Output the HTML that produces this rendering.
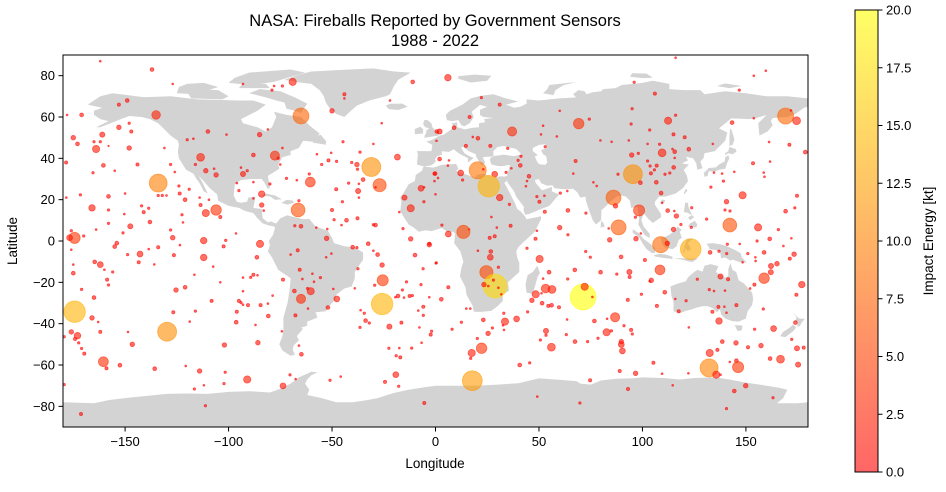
<!DOCTYPE html>
<html><head><meta charset="utf-8">
<style>
html,body{margin:0;padding:0;background:#fff;}
body{width:946px;height:487px;overflow:hidden;font-family:"Liberation Sans",sans-serif;}
svg text{font-family:"Liberation Sans",sans-serif;fill:#000;}
</style></head>
<body>
<svg id="chart" width="946" height="487" viewBox="0 0 946 487" xmlns="http://www.w3.org/2000/svg">
<defs>
<linearGradient id="cbgrad" x1="0" y1="1" x2="0" y2="0">
<stop offset="0" stop-color="rgb(255,102,102)"/>
<stop offset="1" stop-color="rgb(255,255,102)"/>
</linearGradient>
<clipPath id="plotclip"><rect x="63" y="55" width="745" height="372"/></clipPath>
</defs>
<text x="435" y="26" font-size="16.5" text-anchor="middle">NASA: Fireballs Reported by Government Sensors</text>
<text x="435" y="46" font-size="16.5" text-anchor="middle">1988 - 2022</text>
<g id="land" clip-path="url(#plotclip)"></g>
<g id="points" clip-path="url(#plotclip)"></g>
<rect x="63" y="55" width="745" height="372" fill="none" stroke="#000" stroke-width="1"/>
<g id="axes"></g>
<text x="435" y="468" font-size="13.5" text-anchor="middle">Longitude</text>
<text transform="translate(17,241) rotate(-90)" font-size="13.5" text-anchor="middle">Latitude</text>
<rect x="855" y="10" width="23" height="462" fill="url(#cbgrad)" stroke="#000" stroke-width="1"/>
<g id="cbaxis"></g>
<text transform="translate(933,241) rotate(-90)" font-size="13.5" text-anchor="middle">Impact Energy [kt]</text>
</svg>
<script>
const lonTicks=[-150,-100,-50,0,50,100,150];
const latTicks=[-80,-60,-40,-20,0,20,40,60,80];
const cbTicks=[0,2.5,5,7.5,10,12.5,15,17.5,20];
const cbLabels=["0.0","2.5","5.0","7.5","10.0","12.5","15.0","17.5","20.0"];

const lons=[
-162,-137,-127,-69,-74,-78,-79,-93,-11,-44,-44,-50,-22,-26,-153,-149,-171,-178,-135,-65,-153,-148,-147,-161,-175,-173,-165,-162,-164,-148,-158,-131,-178.5,-160.5,-165.5,-155,-144,-128,-126,-134,-134,-132,-130,-113.5,-116,-111,-106,-107,-110,-120,-117,-101,-85,-81,-88,-77.6,-76,-75,-74,-94,-91,-93,-96,-95,-88,-80,-84,-88,-84,-83,-60.5,-61,-72,-67,-66,-66.4,-68,-65,-57.6,-52.6,-52.3,-57.3,-55,-51.7,-50.4,-47.8,-48,-45,-50,-49,-43,-45.4,-37.7,-40.5,-38,-37.7,-31,-35,-37,-27,-29,-37.4,-37,-42,-30,-36.5,-18.4,-7,-15,-12,-17.5,-5.6,-5.5,-0.5,-0.5,0.7,0.5,-29,-30,-15.7,-12,-3,-44.7,-178.4,-171.6,-166,-158,-158,-150,-150.4,-158,-138,-147.5,-142,-138.6,-141,-123.6,-121,-119,-114,-124,-113.5,-109.5,-111,-106,-104,-122.5,-122,-128,-127,-112,-101.4,-96.4,-174.4,-176.8,-176,-170,-154,-164,-151,
-176,-155,-142.8,-148.8,-138.6,-134,-126.4,-123.5,-102.4,-112,-164.7,-162,-175,-175,-156,-160,-143.4,-135.9,-158.7,-158,-171,-165,-174.4,-166,-163,-176,-173,-174.2,-172.4,-171,-169.7,-179.4,-162,-148.6,-146.5,-160.5,-159,-152.5,-129.7,-125.4,-121,-126.7,-118.8,-116,-108.2,-107.4,-116.5,-104,-93,-95,-94,-93,-90.6,-96,-96.3,-87,-84.5,-81,-80.8,-78.7,-88,-89.3,-86,-93,-86.3,-84.8,-102,-85.8,-74.2,-65,-60.3,-61.8,-68.2,-67.7,-61.6,-65.6,-59.5,-55.6,-64.3,-58.7,-73.7,-70,-66.6,-52.8,-50.3,-47.7,-52,-49.4,-66,-64.8,-135.7,-120.7,-114,-101.6,-111.9,-102.2,-116.5,-91,-73.7,-70.3,-67.6,-51,-45.8,-111.2,-171.3,-179.4,-5.4,-25.5,-25.8,-25.8,-28,-32.5,-30,-40,-38,-37.5,-39,-36.2,-34.4,-33.8,-32,-36.5,-29.4,-18.1,-22.3,-16.5,-19.4,-16,-14,-15.2,-12.5,-11.2,-7,-3,-6,-9.9,-3,0.2,-5.9,-8.3,-5.9,-7.8,-1.9,-2.3,-6.7,-11.5,-17.5,-22.5,-19,-17,-19.2,-24.4,-17.8,
6,116,96,106,153.8,159.6,146.8,22.2,31,16.5,2,9,37,69.2,60,74.3,52,51,58.6,53,95,94.5,112.4,116,103.5,115,120.4,122.4,109.5,102.5,108.3,114.5,115.6,94.8,98,115.6,102.5,106.9,103.7,105.8,104.1,110.9,113.2,115.1,93.4,85.1,79.7,95.4,99,106.7,109,109.5,88.2,67.7,66.6,76.3,77.9,60.3,63.7,86,87,98.4,96.6,88.5,84.2,96.9,99.2,83.7,112.2,116.4,115.4,118.6,123.6,123.8,115,131,142.2,155.9,161.5,165.7,172,140.6,139.9,142.3,148.4,133.1,139.1,134.6,138.5,144.4,153.4,158.6,159,161.7,174.7,173.6,169.2,178.7,171,161.2,134,169.2,174.5,171.8,153.8,143.3,2,6.5,6,-0.2,1.2,20.4,12.2,13.1,28.6,23.1,25.7,31,35.7,20.5,18,14.7,26.5,34.9,34.1,36.7,39.9,41.3,41,45.2,44.2,43.7,49,50.2,52.6,52.8,64,72.7,27,29.6,36.3,26.2,28.6,6.2,0,3.1,16.2,13.5,49,48.3,60,64,
123.3,108.8,112,0.4,6.2,2.8,20.5,26.7,26.5,30.4,24.6,28.8,28,23.4,25.5,30.4,31.8,44.2,50.3,54.9,52,53.2,56.3,48.4,46.6,51.5,54.5,56.1,59.7,51.2,67.3,63.9,71.3,72.1,75.8,72.6,74.8,79.8,87.6,93.7,93.8,89.7,101.2,108.5,104.3,103.5,110.8,92.9,99.5,107,33,33.6,39.2,44.5,23.1,12.5,8,14.9,16.8,27.5,25.4,32.6,33.1,20.2,22.3,17.5,17,17.8,53.4,53.4,50.7,56,63.6,63.2,67.4,73.5,78.5,76.8,86.8,82.9,82.7,85,91.1,94.5,95.1,89.8,89.8,90.3,40.7,45.5,89,96.7,105.3,109.5,114.6,122.2,93,74.7,49.2,69.8,132.2,135.7,132.5,137.7,136.2,138.6,145.2,145.4,142.2,146.2,151,157.3,161.7,166.7,175.2,174.7,177.9,172.1,149.9,144.4,140.6,163.1,137.7,141.4,132.3,134.6,139.9,145.4,136.7,139.6,140.6,133.8,137,122.4,117.5,115.9,121.1,126.5,154.2,163.4,173.9,158.4,158.8,162,162.1,165,171.2,173.3,154.6,154.7,158.8,168.1,155.4,148.4,154.1,152,174.4,177,141,147,137,132.7,140.7,150.9
];
const lats=[
87,83,76,77,75,75,73,76,77,71,69,63,68,57,66,68,61,61,61,60.5,55,57,53,51.5,50,47,48,48,44.5,45,46,45,38,36.6,33,34,37,37,33.4,28,22,22,22,40.5,37,34,32,35,53,49,49.5,51.5,51.5,54,41.6,41.3,40,37,45,35.5,34,32.4,28,24.4,28.5,27.6,22.7,20.6,17.4,14.7,28.5,32.4,30.3,29.4,19.5,15,7.4,7.1,6.5,1.3,5.8,42,37,39,42.7,38.5,25,19,15,10.3,10,7.7,11,38,37,34.7,35.8,29.7,27.7,27,26,24.2,21,28,47,43,40.6,25.5,21,15.8,14,19,26,32.6,29,53,48.5,7.7,7.9,6,1,-1.3,48,21,22.3,16,21.6,15,23,13,8.5,9.2,7.1,17,15.8,14,23,20,25,21,26.6,17.4,20,13.5,15,11.6,12.7,9,5.3,1.6,0.2,0.3,3.7,1.5,1.6,5,2.4,-1,5.5,3.9,
-4.2,-2.7,-6.3,-6.6,-3.9,-3,-6.8,-2,-2.6,-8,-10.1,-11.4,-11.4,-15.6,-15,-13.9,-10.3,-11.3,-18.7,-21.3,-23.4,-27.4,-34.2,-37.2,-39.2,-44,-45.8,-47.4,-49.3,-52,-54.5,-46.3,-44,-44,-50,-58.4,-61.6,-60.1,-43.9,-23.7,-22.4,-34.5,-39,-33.9,-29,-12.4,-16.3,-20,-24.3,-29,-29.8,-30.8,-31,-34.2,-39.3,-40.6,-31,-30.3,-36.3,-26.4,-16.3,-17.6,-16.6,-17.7,-7.9,-1.4,-50.3,-49.2,-43.7,-28,-24.3,-23,-24.2,-36,-32.7,-13.9,-15.8,-17.7,-18.4,-19.7,-18.7,-6.6,-4.5,-7.9,-6.1,-28,-32.2,-23.2,-50.6,-54.8,-61.8,-60.5,-62.9,-63.5,-69.8,-69,-71.6,-67,-70.1,-64.8,-66.8,-67.4,-65.6,-79.7,-83.7,-69.5,-78.4,-19,-30.5,-11.6,-6.6,-1.3,-4.7,-3,-3.2,-13.4,-22.9,-33.5,-35,-38.5,-39.7,-41.8,-21.4,-26.6,-41.4,-39.5,-27.2,-23.7,-19.8,-27.4,-26.6,-26.4,-21.1,-27.2,-13.4,-6.8,-1.8,-10.8,-31.8,-33.7,-36,-41.8,-43.7,-45.3,-49.2,-51.8,-51.8,-51.9,-55.5,-56.3,-64.7,-68.2,-70.3,
79,88.7,76.8,71.3,80,82.4,73,69.4,66,60,53,54.8,53,56.8,63,59,55.8,51.6,50.6,45.6,64,56.6,58.2,60.8,53.7,51.6,50.2,44.4,42.7,47,46.8,44.5,43.2,41.6,42.4,40.2,38.7,36.5,36.3,34.4,32.7,32.3,32.9,35.6,48.7,48,48.7,32.3,28.2,28.4,23.2,18.5,32.3,38.7,32.6,28.4,26.6,23.2,24.2,21,17,14.8,11.5,6.6,0.6,1.1,3.7,6.1,14.7,12.1,14.5,8,6.6,16.1,5.6,10.6,7.7,6.6,1,5.5,1.3,19,15,14.5,22.1,26.1,29,33.1,32.6,33.5,37.6,33.1,31.1,38.4,21.9,16,14.4,43,46.6,47.9,47,60.5,58.2,63.2,59.4,57.3,39.7,39,36.5,32.6,30.5,34.2,32.9,29.5,32.3,34.7,26.5,21,17.7,49.7,50.3,46,46,44.8,33.2,35.2,39,41,36.6,31.3,29,26.5,21.5,19,21.9,14.2,14.8,13.5,11.6,6.5,7.4,1.5,2.3,3.4,22.6,7.7,5.6,4.4,5,1.1,6.5,3,
-3.9,-1.8,-1.1,-10.6,-22.4,-28.2,-4.7,-5.1,-7.9,-12.7,-15.1,-21.8,-18.9,-21.1,-21.8,-22.6,-25.8,-3.5,-8.7,-15.1,-18.2,-23,-23.4,-25.8,-28.7,-30.1,-31.4,-31.1,-32.1,-25.3,-14,-18.4,-27.1,-22.1,-27.1,-5.1,-7.9,-15.1,-16,-15,-17.4,-7.7,-9.2,-14,-19,-19.5,-24.8,-28.5,-25.8,-31.4,-35,-39,-37.7,-34.3,-38.2,-39.3,-42.7,-32.7,-32.7,-42.1,-44.7,-40.8,-43,-47.2,-51.9,-54.2,-56.8,-67.6,-43.5,-45.6,-47.9,-51.4,-38,-45.3,-48.7,-48.7,-47.1,-38.7,-36.9,-37.6,-44.2,-43.5,-41,-43,-45,-48.7,-50.1,-53.2,-60,-59,-62.9,-64,-58.9,-64.2,-69.8,-64,-71.6,-67.4,-75.3,-78.4,-61.4,-64.7,-54.2,-64.7,-52.7,-48.7,-49.3,-57.9,-58.5,-61,-51.4,-50.6,-56.9,-57.2,-59.8,-51.9,-51.6,-47.6,-70,-72.6,-81.1,-75.8,-17.2,-18.5,-23.5,-24.2,-24,-31,-31.9,-31.8,-34.7,-34.2,-38.7,-41.8,-34,-28,-28.9,-18.5,-42.7,-42.4,-39.5,-32.9,-18,-15.1,-12.1,-11,-8.5,-6.4,-7.9,-9.7,-5.5,-2.4,0,-10.3,-21.1,-23,-26,-21.1,-1.6,-1.4,-5,-5.5,-6.1,-6.1
];
const energies=[
.2,.6,.2,1.8,.3,.2,.3,.2,.6,.45,.2,.8,.2,.2,.45,.6,.6,.2,2.5,7.8,.8,.3,.45,1,.8,.6,.3,.3,1.8,.8,.15,.2,.45,.6,.3,.2,.45,.3,.2,9.8,.3,.3,.2,2.1,.3,.8,.8,.2,.6,.3,.2,.2,.8,.2,.6,2.8,.3,.2,.2,.2,.3,1,.2,.3,.2,.3,1.5,.2,.8,.2,3.2,.3,.3,.2,.3,6,.3,.6,.2,.8,.2,.2,.3,.45,.2,.3,.45,.3,.45,.3,.6,.2,.45,.3,.8,.3,11,.6,.2,5.5,.2,1,.2,.3,.2,.3,1.25,1.25,1,1.8,.2,.3,.2,.45,.2,.6,.2,.6,.3,.3,.8,.45,.3,.2,.3,1.5,.6,.3,.2,.2,.3,.6,1,.3,.3,.45,.45,.6,.3,.2,.3,.45,.2,1.8,3.6,.45,.3,.2,.3,.8,1.5,.3,.2,4,1.25,.3,.3,.6,.2,.3,
.2,.6,1.25,.3,.2,.45,.45,.2,.45,1.5,.6,1.25,.2,.6,.3,.2,.45,.2,.45,.3,.3,.6,14,.8,.2,.8,1.5,.45,.3,.3,.45,.3,.45,.2,.8,3.2,.45,.6,11,.8,.6,.45,.2,.3,.45,.2,.2,.2,.2,.45,.3,.2,.45,.45,.6,.2,.45,.2,.6,.2,.45,.3,.2,.2,.6,1.8,.8,.8,.2,2.8,1.8,.3,.6,.45,.2,.45,.2,.3,.2,.2,.45,.2,.45,.2,.2,1.25,.6,.2,.2,.6,.6,.2,.8,.3,.2,.3,.3,1.8,1.25,.3,.2,.3,.2,.3,.45,.3,.45,4,14,.8,.6,.6,.2,.6,.3,.3,.2,.2,.3,.6,.3,.3,.3,.6,1,.45,.2,.3,.3,.2,.45,.3,.3,.2,.3,.6,.8,.2,.45,.2,.3,.2,.3,.45,.2,.3,.2,.3,.3,.45,1.25,.45,.3,
1.5,.2,.3,.45,.2,.2,.3,.3,.45,.45,1,.6,2.8,3.6,.2,.3,.2,.2,.2,.3,.3,.3,1.8,.3,.3,.45,.45,.6,2.1,.2,.3,.2,.6,.8,.3,.2,.3,.45,.3,.3,.45,.3,.3,.6,.2,.2,.2,11,.6,.6,.6,.2,.3,.45,.2,.2,.2,.3,.2,7,.8,4,.3,7,.8,.8,.2,.2,.6,.8,.2,.3,.3,.3,.8,.3,6,1.8,.6,.3,.2,.8,.3,.3,1.8,.3,.3,.2,.2,.2,.45,.2,.2,.2,.45,.3,.6,.6,.45,.2,.2,8,2.1,.2,.2,.6,.6,.2,.2,.6,.2,9,1.25,.3,1.25,.2,14,1.5,.3,.6,.2,.45,.45,.3,.3,.2,.3,.3,.6,.6,.2,.2,.3,.45,.2,.45,.6,.3,.2,.2,.45,.45,.45,1.25,.2,.3,.2,5.5,.2,.45,.8,.3,
13,8,.8,.3,.45,.6,.2,.6,1.25,.3,5.5,17,.3,.8,.2,.2,.2,.3,1.8,.6,.2,2.5,2.1,1.8,.8,.6,.45,.6,.45,.2,.6,.3,20,1.8,.2,.3,.3,.6,.3,1,.45,.6,.45,3.2,.8,.2,.6,.45,.3,.45,.3,1.8,1.25,.3,.6,.3,.3,.2,.2,.3,.8,.2,.2,.3,3.6,1.8,.3,12,1,.3,.3,2.1,.2,.3,.6,.3,.3,.6,2.8,.2,1.8,.3,.3,.45,.3,.8,1.25,1.25,.6,.3,.45,.8,.45,.2,.2,.2,.45,.45,.2,.3,10,1.8,1.8,.2,.45,.6,.8,.6,.2,4,.45,.8,.6,2.1,1,1,.45,.3,.8,.6,.3,.3,1,.45,.3,.2,.2,.45,.45,.2,.2,.45,1.5,.2,.45,.2,.3,.3,.3,1.25,.6,.3,3.6,1,1,.8,.45,.8,.2,.2,.6,.2,.3,.2,.45,.2,.45,1.5,.3,.2,.3,.6,.3,.3
];

const landPolys=[
[[-168,66],[-162,70],[-156,71.5],[-141,69.6],[-128,70],[-115,68.5],[-95,68],[-88,68],[-82,66],[-86,63],[-94,59],[-93,57],[-86,55],[-82,53],[-79,55],[-77,60],[-78,62.5],[-72,61],[-65,60],[-61,56],[-56,52],[-59,48],[-64,48.5],[-66,45],[-70,43.5],[-70,41.6],[-74,40.5],[-76,37],[-75.5,35],[-81,31.5],[-80,26],[-81,25],[-82.5,28],[-84,30],[-89,30],[-94,29.5],[-97,27.5],[-97.5,22],[-96,19],[-94,18.5],[-91,19],[-90.5,21],[-87,21.5],[-88,16],[-84,15.5],[-83.5,11],[-81,9],[-79.5,9.5],[-77.5,8.5],[-78,7],[-80.5,7.5],[-83.5,8.5],[-86,11],[-88,13.5],[-92,14.5],[-95,16],[-100,17],[-105,19.5],[-105.5,22.5],[-109,25.5],[-112.5,29.5],[-114.5,31.5],[-113,29],[-110,23],[-112,24],[-114,28],[-115.5,30],[-117,32.5],[-120.5,34.5],[-124,40],[-124.5,43],[-124,46.5],[-124.5,48.5],[-128,51],[-131,54],[-134,57],[-138,59],[-142,60],[-148,60.5],[-152,59],[-157,57],[-162,55],[-164,55],[-158,58],[-162,59],[-165,61],[-165,63],[-161,64.5],[-166,65.5]],
[[-65,62],[-62,66.5],[-68,69.5],[-75,72.5],[-85,73.5],[-90,71.5],[-82,69.5],[-77,68],[-73,67],[-72,64],[-68,63]],
[[-118,69],[-103,68.5],[-100,70],[-105,73],[-115,73.5],[-120,72]],
[[-95,76],[-85,76],[-78,77],[-73,78.5],[-63,81.5],[-70,83],[-90,81.5],[-97,79],[-100,76.5]],
[[-125,71.5],[-116,71],[-105,74.5],[-112,76.5],[-120,76],[-124,74.5]],
[[-95,74],[-80,74],[-82,76],[-93,76.5]],
[[-73,78],[-66,80.5],[-60,82],[-45,82.8],[-30,83.5],[-20,82],[-12,81.5],[-18,78],[-20,75],[-22,71],[-24,70],[-32,68],[-38,65.5],[-42,62],[-44,60],[-48,61.5],[-51,64],[-53,67],[-54,70],[-56,73],[-60,76],[-68,77]],
[[-24,65.5],[-22,66.4],[-16,66.5],[-13.5,65],[-18,63.4],[-22.5,63.8]],
[[-80,9],[-77,8.5],[-75,11],[-71.5,12.5],[-70,12],[-64,10.5],[-61,10.7],[-58,7],[-52,5],[-50,1.5],[-49,-1],[-44,-2.5],[-39.5,-3],[-35,-5.5],[-35,-9],[-37,-12],[-39,-15],[-39,-18],[-40.5,-22],[-44,-23],[-48,-26],[-48.5,-28.5],[-51,-31],[-53,-34],[-58,-34.5],[-57,-37],[-62,-39],[-62,-41],[-65,-42],[-64,-42.5],[-67,-46],[-66,-48],[-68.5,-50.5],[-69,-52.5],[-68,-55],[-70,-55.5],[-74,-53],[-75.5,-50],[-74,-46],[-73.5,-43],[-73.5,-37],[-71.5,-30],[-70.5,-24],[-70,-18],[-76,-14],[-79,-8],[-81,-5],[-80,-2],[-80.5,0],[-78.5,3],[-77.5,6.5]],
[[-9,37],[-8.5,42],[-9,43.5],[-2,43.5],[-1.5,46.5],[-4.5,48],[-1.5,49],[2,51],[4,51.5],[7,53.5],[8.5,55],[8,57],[10.5,57.5],[10.5,55],[12.5,54.5],[14,54],[18,54.8],[21,55],[21,57],[24,57.5],[23.5,59],[28,59.5],[23,60],[21.5,61],[21.5,63.5],[25,65],[21.5,65.8],[17.5,62.5],[18.5,60],[16.5,57],[14,55.5],[12.5,56],[11,58.5],[8,58],[5.5,58.5],[5,61],[7,63],[13,66],[17,69],[22,70.3],[28,71],[31,70],[33,69.3],[40,67.5],[34,66],[38,64.5],[41,65],[44,66.5],[44,68.5],[50,68],[55,68.5],[60,69],[68,69.5],[66.5,71],[69,73],[72,72.5],[73,71],[76,72],[80,72.5],[81,73.5],[87,74],[90,75.5],[100,76.5],[105,77.5],[113,76],[113,73.5],[120,73],[128,73],[130,71],[140,72.5],[150,71.5],[160,70],[170,70],[180,69],[180,65],[178,64.5],[174,61.5],[170,60],[163,59.5],[162,58],[163,56],[160.5,53],[156.5,51],[156,57],[160,61],[155,59.5],[152,59],[143,59.3],[137,54.5],[141,52.5],[140,48.5],[135,43.5],[130,42.5],[129.5,40],[128,38.5],[129,35.2],[126.5,34.5],[126,37.5],[124.5,40],[121,40.8],[122,39],[119,37.5],[122.5,37],[120,34.5],[121.5,31.5],[122,29],[119.5,25.5],[116,23],[111,21.5],[108,21.5],[106,19],[106,17.5],[109,13],[109,11.5],[105,8.7],[103,10.5],[100.5,13.5],[99.5,10],[100.5,7],[103.5,3.5],[103.5,1.4],[101,2.9],[98,8],[98.5,11],[97.5,16.5],[94.5,16],[94,19.5],[92,21.5],[90,22],[88,21.7],[87,21],[85,19.5],[82,16.5],[80.2,15],[80,10],[77.5,8],[76,10],[74.5,14],[72.8,19],[72.5,21.5],[70,21],[68.5,23.5],[66.5,25.3],[62,25],[57.5,25.5],[56.5,27],[54,26.7],[51,28],[50,30],[48,29.5],[48.5,28],[50.2,26],[51.5,24.5],[56.3,26.2],[56.2,24],[59.8,22.5],[58,20.5],[55,17],[52,15.8],[45,13],[43.3,12.7],[42.5,15],[42.7,16.5],[39,21.5],[38,24],[35,28],[34.5,29.5],[33,31],[34.5,31.5],[35.8,36],[36,36.8],[32,36.2],[30,36.3],[27,37],[26.2,39.5],[27,40.5],[29,41],[26,40.8],[24,40.7],[22.8,40.4],[24,38],[22.5,36.5],[21,38.5],[19.5,41],[19.5,42],[16,43.5],[13.5,45.5],[12.3,45.3],[14,42.5],[16.5,41],[18.5,40.2],[16.5,38.5],[15.6,38],[15.7,40],[12,42],[10.5,43],[8.8,44.4],[6.5,43.1],[3,43.4],[3.2,41.8],[0.8,41],[-0.3,39.5],[0.2,38.7],[-0.7,37.6],[-2,36.7],[-5.5,36]],
[[-5.5,36],[-1,35.5],[3,36.8],[10,37.3],[11,35],[10,34],[11.5,33],[15.5,32],[19,30.5],[20,32],[23,32.6],[29,30.9],[32,31.3],[34,31],[34.5,29],[33,28],[32.5,29.5],[35.5,24],[37,21],[38.5,18],[39.5,15.5],[41,14.5],[43.2,12],[44,10.5],[51,12],[51,10.5],[48,4.5],[42,-1],[40,-3],[39,-5],[39.5,-8],[40.5,-10.5],[40.5,-15],[35,-20],[35.5,-24],[32.5,-26],[32.5,-29],[30,-31.5],[27,-33.8],[22,-34.3],[18.5,-34.2],[18,-31.5],[15,-26],[14.5,-22.5],[11.8,-17],[12.5,-13],[13.5,-10],[12,-5],[9,-1],[9.5,3.5],[8.5,4.5],[6,4.3],[3,6.3],[-2,4.8],[-5,5.2],[-8,4.5],[-11,6.8],[-13,8],[-15,11],[-17,14.5],[-16.5,19],[-17,21],[-15,24],[-13,27.5],[-10,29],[-9.5,32],[-6.5,34],[-6,35.7]],
[[44,-25],[47,-25.5],[49.5,-17],[50.5,-15.5],[49.2,-12],[47,-15],[44.5,-16.5],[43.5,-21]],
[[-5.5,50],[1.5,51],[1.7,52.8],[0,53.5],[-1.5,55],[-2,57],[-4,58.6],[-5.5,58.4],[-6,56.5],[-5,55],[-3,54.6],[-4.5,53.3],[-4.5,52],[-5,51.7]],
[[-10,51.7],[-6,52],[-6,54],[-7.3,55.3],[-10,54.2]],
[[11,78.5],[17,76.7],[25,77.5],[27,80],[19,80.5],[11,79.8]],
[[52,71.5],[57,70.6],[58,73],[62,75.5],[68,76.8],[64,76.5],[55,75.5],[54,73.5]],
[[94,79.5],[100,78.8],[105,79],[102,81],[95,81.2]],
[[136,75],[142,74],[148,75],[140,76.2]],
[[130,31],[131.5,31.5],[132,33.8],[135,33.5],[137,34.5],[140,35],[141,38],[142,40],[141.5,41.5],[140,40.5],[139.8,38.5],[137,37],[135.5,35.6],[132,35.3],[130.8,34],[129.7,33]],
[[140,41.5],[141.5,42.5],[143.5,42],[145.5,43.3],[145,44.5],[142,45.5],[141.5,43.5],[140,42.5]],
[[142,46],[143.5,46.5],[144.5,49],[143,54],[142.3,54.2],[142,50]],
[[120.2,22.5],[121.8,24.5],[121,25.3],[120.1,23.5]],
[[108.6,18.3],[110.5,18.5],[111,19.8],[109.5,20.1]],
[[79.8,6.5],[81.8,7],[81,9],[80,9.7]],
[[120,14],[121.5,13.8],[124,12.5],[122.2,16.5],[122,18.5],[120.6,18.5],[120.3,16]],
[[122,7],[126,6.5],[126.5,8],[125.3,9.8],[123,8.5]],
[[123,10],[125,11.5],[124,12.5],[122,11.5]],
[[109,1.5],[109.5,-1],[110.5,-3],[114.5,-4],[116.5,-2.5],[117.5,0.5],[119,1.5],[118,4.5],[119,5.3],[117,7],[115.5,5],[113,3],[111,2]],
[[95.3,5.6],[98,4],[100.5,1],[104,-1.5],[106,-3.2],[106,-5.8],[104.5,-5.8],[102,-4],[100,-1],[98.5,1.7],[95.3,4]],
[[105.5,-6.8],[108,-6.3],[111,-6.5],[114.5,-7.6],[114.5,-8.7],[110,-8.2],[106,-7.5]],
[[119.5,-5.5],[120.5,-2],[121.5,1],[124.5,1.3],[122,-1],[123.5,-4],[122,-5],[120.5,-3.5],[120.4,-5.5]],
[[115,-8.3],[119,-8.3],[123,-8.5],[125,-8.5],[127,-8.3],[124,-10.3],[119,-9]],
[[131,-1.3],[134,-1],[138,-1.7],[141,-2.6],[145,-4.5],[147.5,-6],[148,-8],[150.5,-10.5],[147,-10.2],[143.5,-9],[142.5,-9.5],[140,-8],[138,-8.3],[137.5,-5],[135,-4.3],[132.5,-4],[132,-2.8]],
[[113.5,-22],[114,-26.5],[115,-29.5],[115,-34],[118,-35],[121,-33.8],[124,-33],[126,-32.3],[129,-31.6],[131.5,-31.5],[134,-32.5],[136,-34.5],[137.5,-33],[138,-35.5],[140,-37.5],[143.5,-38.8],[146.5,-39],[150,-37.5],[150.8,-34],[153,-31],[153.5,-28],[153,-25],[150.8,-22.5],[149,-20.5],[146.5,-19],[145.3,-15],[143.5,-14],[142.5,-10.7],[141.5,-13.5],[141.5,-17],[140,-17.7],[136.7,-15.8],[135.5,-15],[136.7,-12.2],[133,-11.2],[130,-12],[129,-14.8],[126.5,-14],[125,-15],[122,-17.5],[121,-19.5],[117,-20.6]],
[[144.6,-40.7],[148.3,-40.9],[148,-43.2],[146,-43.6]],
[[172.7,-34.5],[174.5,-36.5],[175.8,-37.5],[178.5,-37.7],[177,-39.3],[176,-41.3],[174.7,-41.3],[175,-39.5],[173.8,-39.2],[174.5,-37]],
[[172.7,-40.5],[174.3,-41.7],[173,-43.5],[171,-45],[169,-46.6],[166.5,-46],[168,-44],[171,-42]],
[[-85,21.8],[-82,23],[-77.5,22],[-74.2,20.2],[-77.5,19.9],[-80,21.6],[-84,21.9]],
[[-74.5,18.4],[-72,19.9],[-69,19.6],[-68.4,18.5],[-71.5,17.6]],
[[-59.3,47.6],[-53,46.6],[-52.8,48.3],[-55.5,51.5],[-57.5,50.7]],
[[-180,-84.5],[-180,-78],[-165,-78.5],[-158,-77],[-150,-76],[-140,-75],[-130,-74],[-120,-73.8],[-110,-74],[-100,-73],[-90,-72.7],[-80,-73.3],[-75,-71.5],[-70,-69],[-66,-66],[-60,-63.3],[-57,-63.5],[-60,-65],[-62,-67],[-63,-69],[-61,-72],[-62,-74.5],[-55,-76],[-48,-78],[-40,-78],[-33,-77],[-28,-76],[-20,-73.5],[-13,-72],[-5,-70.7],[0,-70],[10,-70],[20,-70],[30,-69.5],[40,-68.8],[50,-66.5],[58,-67],[68,-67.8],[70,-69],[75,-69.5],[80,-67.5],[87,-66.7],[95,-66.5],[100,-66],[110,-66.3],[118,-67],[125,-66.3],[135,-66],[142,-67],[150,-68.5],[160,-70],[166,-71],[170,-72],[168,-76],[165,-78.5],[175,-78.5],[180,-78],[180,-90],[-180,-90]]
];
const waterPolys=[
[[47,45],[50,46.5],[53,46.8],[54,45],[51,44],[52,42],[53.5,41],[54,38],[53,36.8],[50,37.2],[49,38.5],[48,41],[49.5,41.5],[47,43.5]],
[[28,41.3],[28,43.5],[30,45.5],[33,46],[35,45.3],[37,45],[39,44.5],[41.5,42],[38,41],[33,41.8],[29,41.2]]
];

const NS='http://www.w3.org/2000/svg';
const X0=63,X1=808,Y0=55,Y1=427;
function xScale(lon){return X0+(lon+180)/360*(X1-X0);}
function yScale(lat){return Y0+(90-lat)/180*(Y1-Y0);}
function cbScale(v){return 472-v/20*462;}
function ptsStr(poly){return poly.map(p=>xScale(p[0]).toFixed(1)+','+yScale(p[1]).toFixed(1)).join(' ');}

const land=document.getElementById('land');
landPolys.forEach(function(poly){
  const el=document.createElementNS(NS,'polygon');
  
  
  el.setAttribute('points',ptsStr(poly));
  el.setAttribute('fill','#d3d3d3');
  land.appendChild(el);
});
waterPolys.forEach(function(poly){
  const el=document.createElementNS(NS,'polygon');
  
  
  el.setAttribute('points',ptsStr(poly));
  el.setAttribute('fill','#ffffff');
  land.appendChild(el);
});

const pts=document.getElementById('points');
const n=Math.min(lons.length,lats.length,energies.length);
for(let i=0;i<n;i++){
  const e=energies[i];
  const r=Math.max(1.2,2.98*Math.sqrt(e));
  const g=Math.round(255*Math.min(e,20)/20);
  const el=document.createElementNS(NS,'circle');
  
  
  el.setAttribute('cx',xScale(lons[i]).toFixed(1));
  el.setAttribute('cy',yScale(lats[i]).toFixed(1));
  el.setAttribute('r',(r-0.4).toFixed(2));
  el.setAttribute('fill','rgba(255,'+g+',0,0.6)');
  el.setAttribute('stroke','rgba(255,'+g+',0,0.6)');
  el.setAttribute('stroke-width','0.8');
  pts.appendChild(el);
}

const axes=document.getElementById('axes');
lonTicks.forEach(function(t){
  const x=xScale(t);
  const ln=document.createElementNS(NS,'line');
  
  
  ln.setAttribute('x1',x);ln.setAttribute('x2',x);ln.setAttribute('y1',427);ln.setAttribute('y2',431.5);
  ln.setAttribute('stroke','#000');
  axes.appendChild(ln);
  const tx=document.createElementNS(NS,'text');
  
  
  tx.setAttribute('x',x);tx.setAttribute('y',446);
  tx.setAttribute('font-size','13');tx.setAttribute('text-anchor','middle');
  tx.textContent=(t<0?'\u2212'+(-t):String(t));
  axes.appendChild(tx);
});
latTicks.forEach(function(t){
  const y=yScale(t);
  const ln=document.createElementNS(NS,'line');
  
  
  ln.setAttribute('x1',58.5);ln.setAttribute('x2',63);ln.setAttribute('y1',y);ln.setAttribute('y2',y);
  ln.setAttribute('stroke','#000');
  axes.appendChild(ln);
  const tx=document.createElementNS(NS,'text');
  
  
  tx.setAttribute('x',55);tx.setAttribute('y',y+4.5);
  tx.setAttribute('font-size','13');tx.setAttribute('text-anchor','end');
  tx.textContent=(t<0?'\u2212'+(-t):String(t));
  axes.appendChild(tx);
});
const cb=document.getElementById('cbaxis');
cbTicks.forEach(function(t,i){
  const y=cbScale(t);
  const ln=document.createElementNS(NS,'line');
  
  
  ln.setAttribute('x1',878);ln.setAttribute('x2',882.5);ln.setAttribute('y1',y);ln.setAttribute('y2',y);
  ln.setAttribute('stroke','#000');
  cb.appendChild(ln);
  const tx=document.createElementNS(NS,'text');
  
  
  tx.setAttribute('x',886);tx.setAttribute('y',y+4.5);
  tx.setAttribute('font-size','13');
  tx.textContent=cbLabels[i];
  cb.appendChild(tx);
});
</script>
</body></html>
